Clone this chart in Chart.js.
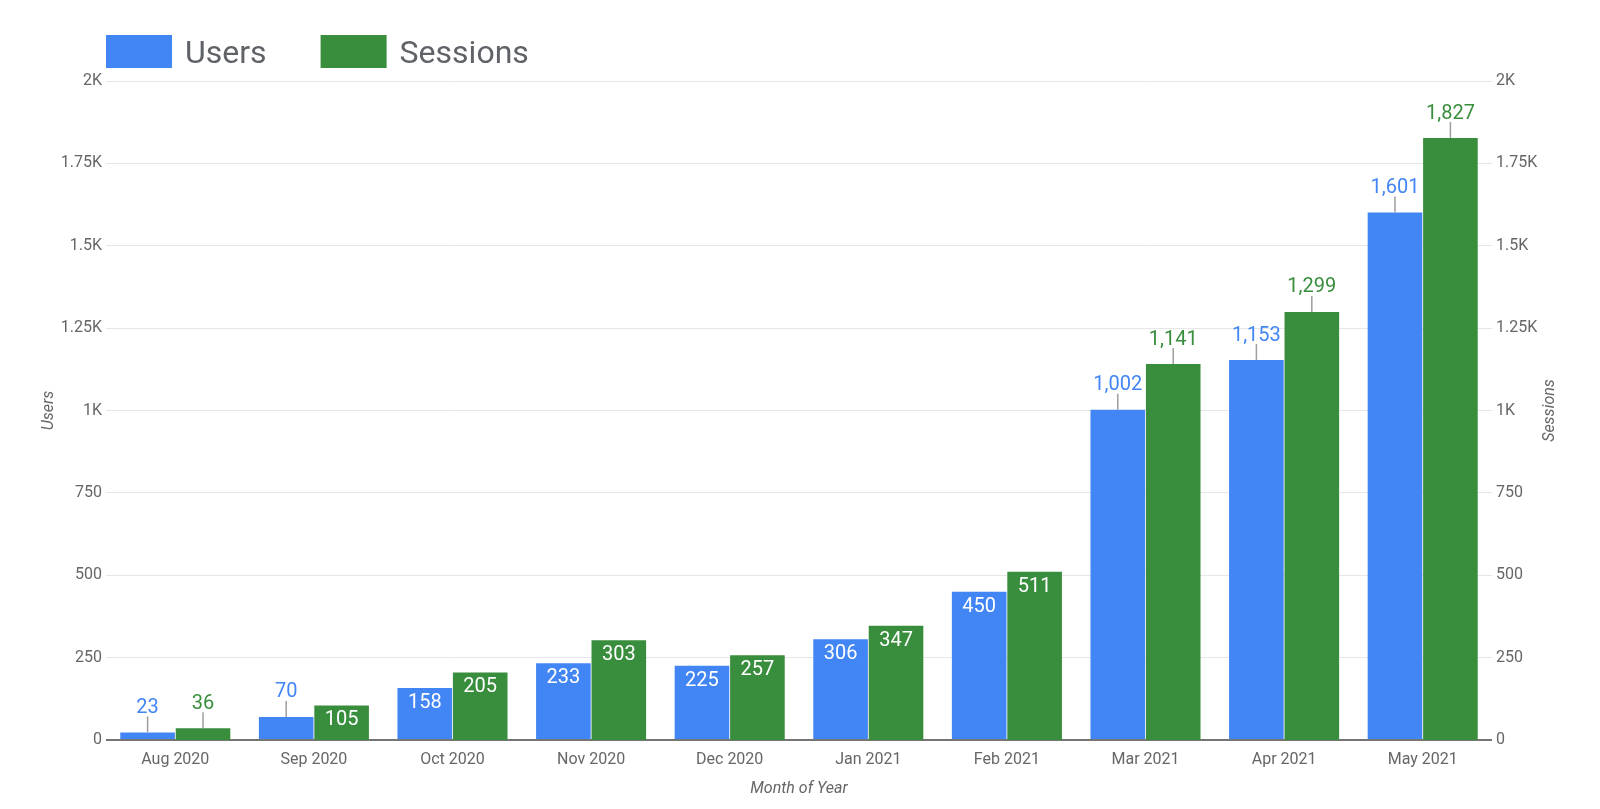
<!DOCTYPE html>
<html>
<head>
<meta charset="utf-8">
<script src="https://cdn.jsdelivr.net/npm/chart.js@4"></script>
<style>
  body { margin: 0; background: #fff; }
  #wrap { width: 1600px; height: 809px; }
</style>
</head>
<body>
<div id="wrap"><canvas id="chart" width="1600" height="809"></canvas></div>
<script>
const months = ["Aug 2020", "Sep 2020", "Oct 2020", "Nov 2020", "Dec 2020",
  "Jan 2021", "Feb 2021", "Mar 2021", "Apr 2021", "May 2021"];
const users = [23, 70, 158, 233, 225, 306, 450, 1002, 1153, 1601];
const sessions = [36, 105, 205, 303, 257, 347, 511, 1141, 1299, 1827];
const axisMax = 2000;
const axisStep = 250;

const BLUE = "#4285f4";
const GREEN = "#388e3c";
const GREY = "#666666";
const FONT = "Roboto";

function fmtTick(v) {
  return v >= 1000 ? v / 1000 + "K" : String(v);
}

// custom legend (top left) + right axis title reading upward
const legendPlugin = {
  id: "topLegend",
  afterDraw(chart) {
    const ctx = chart.ctx;
    ctx.save();
    ctx.font = `32px ${FONT}`;
    ctx.textBaseline = "alphabetic";
    let x = 106;
    chart.data.datasets.forEach((ds) => {
      ctx.fillStyle = ds.backgroundColor;
      ctx.fillRect(x, 35, 66, 33);
      ctx.fillStyle = "#5f6368";
      ctx.fillText(ds.label, x + 79, 62.5);
      x += 79 + ctx.measureText(ds.label).width + 54;
    });

    const y1 = chart.scales.y1;
    ctx.font = `italic 16px ${FONT}`;
    ctx.fillStyle = GREY;
    ctx.textAlign = "center";
    ctx.textBaseline = "middle";
    ctx.translate(1550, (chart.chartArea.top + chart.chartArea.bottom) / 2);
    ctx.rotate(-Math.PI / 2);
    ctx.fillText("Sessions", 0, 0);
    ctx.restore();
  },
};

// value labels: inside the bar in white, or above it with a leader line
const valueLabels = {
  id: "valueLabels",
  afterDatasetsDraw(chart) {
    const ctx = chart.ctx;
    ctx.save();
    ctx.font = `20px ${FONT}`;
    ctx.textAlign = "center";
    ctx.textBaseline = "alphabetic";
    chart.data.datasets.forEach((ds, di) => {
      const meta = chart.getDatasetMeta(di);
      meta.data.forEach((bar, i) => {
        const txt = ds.data[i].toLocaleString("en-US");
        const tw = ctx.measureText(txt).width;
        const h = bar.base - bar.y;
        const outside = h < 30 || tw > bar.width - 8;
        if (outside) {
          ctx.strokeStyle = "#9e9e9e";
          ctx.lineWidth = 1.5;
          ctx.beginPath();
          ctx.moveTo(bar.x, bar.y);
          ctx.lineTo(bar.x, bar.y - 16);
          ctx.stroke();
          ctx.fillStyle = ds.backgroundColor;
          ctx.fillText(txt, bar.x, bar.y - 19.5);
        } else {
          ctx.fillStyle = "#ffffff";
          ctx.fillText(txt, bar.x, bar.y + 20);
        }
      });
    });
    ctx.restore();
  },
};

const yTicks = {
  stepSize: axisStep,
  padding: 4,
  color: GREY,
  font: { family: FONT, size: 16 },
  callback: fmtTick,
};

new Chart(document.getElementById("chart"), {
  type: "bar",
  data: {
    labels: months,
    datasets: [
      { label: "Users", data: users, backgroundColor: BLUE, yAxisID: "y" },
      { label: "Sessions", data: sessions, backgroundColor: GREEN, yAxisID: "y1" },
    ],
  },
  options: {
    responsive: false,
    animation: false,
    categoryPercentage: 0.8,
    barPercentage: 0.985,
    layout: { padding: { top: 81, left: 0, right: 0, bottom: 0 } },
    plugins: {
      legend: { display: false },
      tooltip: { enabled: false },
    },
    scales: {
      x: {
        grid: { display: false, drawTicks: false },
        border: { display: false },
        ticks: {
          padding: 10,
          color: GREY,
          font: { family: FONT, size: 16 },
          maxRotation: 0,
        },
        title: {
          display: true,
          text: "Month of Year",
          color: GREY,
          font: { family: FONT, size: 16, style: "italic" },
          padding: { top: 0, bottom: 10 },
        },
        afterFit: (s) => { s.height = 69; },
      },
      y: {
        position: "left",
        min: 0,
        max: axisMax,
        ticks: yTicks,
        border: { display: false },
        grid: {
          drawTicks: false,
          color: (c) => (c.tick && c.tick.value === 0 ? "#757575" : "#e6e6e6"),
          lineWidth: (c) => (c.tick && c.tick.value === 0 ? 2 : 1),
        },
        title: {
          display: true,
          text: "Users",
          color: GREY,
          font: { family: FONT, size: 16, style: "italic" },
          padding: { top: 39, bottom: 0 },
        },
        afterFit: (s) => { s.width = 106; },
      },
      y1: {
        position: "right",
        min: 0,
        max: axisMax,
        ticks: yTicks,
        border: { display: false },
        grid: { display: false, drawTicks: false },
        title: { display: false },
        afterFit: (s) => { s.width = 108; },
      },
    },
  },
  plugins: [valueLabels, legendPlugin],
});
</script>
</body>
</html>
